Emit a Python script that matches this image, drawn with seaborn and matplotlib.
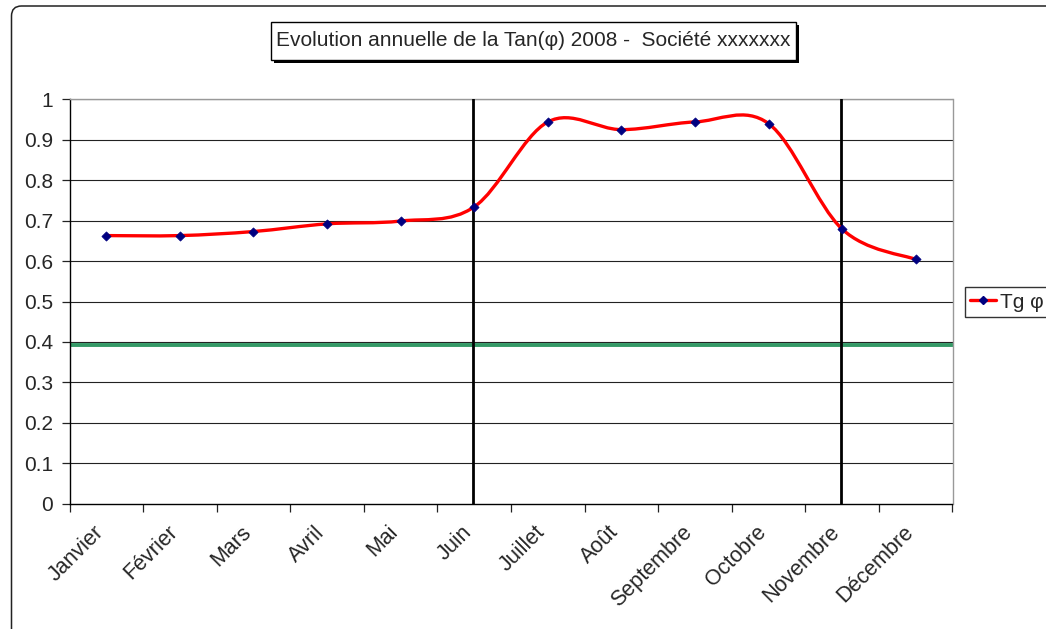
import numpy as np
import matplotlib
matplotlib.use('Agg')
import matplotlib.pyplot as plt
import seaborn as sns
from matplotlib.path import Path
from matplotlib.patches import PathPatch, Rectangle, FancyBboxPatch
from matplotlib.lines import Line2D
from matplotlib.transforms import IdentityTransform, ScaledTranslation

# Data
months = ['Janvier', 'Février', 'Mars', 'Avril', 'Mai', 'Juin', 'Juillet',
          'Août', 'Septembre', 'Octobre', 'Novembre', 'Décembre']
tan_phi = [0.663, 0.663, 0.673, 0.692, 0.699, 0.734, 0.944,
           0.925, 0.944, 0.940, 0.679, 0.604]
threshold = 0.393          # green reference line
marked_months = ['Juin', 'Novembre']   # black vertical lines

TITLE = 'Evolution annuelle de la Tan(φ) 2008 -  Société xxxxxxx'
RED = '#FF0000'
NAVY = '#000080'
GREEN = '#339966'

sns.set_style('white')
plt.rcParams['font.family'] = ['Liberation Sans', 'DejaVu Sans']


def smooth_path(xs, ys):
    """Excel-like smoothed line: Catmull-Rom segments as cubic Beziers."""
    n = len(xs)
    verts = [(xs[0], ys[0])]
    codes = [Path.MOVETO]
    for i in range(n - 1):
        a = i - 1 if i > 0 else i
        d = i + 2 if i + 2 < n else i + 1
        c1 = (xs[i] + (xs[i + 1] - xs[a]) / 6, ys[i] + (ys[i + 1] - ys[a]) / 6)
        c2 = (xs[i + 1] - (xs[d] - xs[i]) / 6, ys[i + 1] - (ys[d] - ys[i]) / 6)
        verts += [c1, c2, (xs[i + 1], ys[i + 1])]
        codes += [Path.CURVE4] * 3
    return Path(verts, codes)


fig = plt.figure(figsize=(10.46, 6.29), dpi=100)
ax = fig.add_axes([69.5 / 1046, 1 - 503.7 / 629, (952.5 - 69.5) / 1046, (503.7 - 99.3) / 629])

pos = np.arange(len(months))

# grid
for v in np.arange(0.1, 1.01, 0.1):
    ax.axhline(v, color='#222222', lw=0.8, zorder=1)

ax.axhline(threshold, color=GREEN, lw=2.8, zorder=2)
for m in marked_months:
    ax.axvline(months.index(m) - 0.02, color='black', lw=2.0, zorder=3)

ax.add_patch(PathPatch(smooth_path(pos, tan_phi), fill=False, edgecolor=RED,
                       lw=2.4, capstyle='round', joinstyle='round', zorder=4))
sns.scatterplot(x=pos, y=tan_phi, marker='D', color=NAVY, s=22,
                edgecolor=NAVY, linewidth=0.5, ax=ax, zorder=5, legend=False)

ax.set_xlim(-0.5, len(months) - 0.5)
ax.set_ylim(0, 1)
ax.set_yticks(np.round(np.arange(0, 1.01, 0.1), 1))
ax.set_yticklabels(['0'] + ['%.1f' % v for v in np.arange(0.1, 0.95, 0.1)] + ['1'])
ax.set_xticks(np.arange(-0.5, len(months), 1))
ax.set_xticklabels([''] * (len(months) + 1))
ax.set_xticks(pos, minor=True)
ax.set_xticklabels(months, minor=True, rotation=45, ha='right', va='top',
                   rotation_mode='anchor')
ax.tick_params(axis='both', which='major', direction='out', length=6, width=0.9,
               color='#222222', labelsize=15, pad=6, left=True, bottom=True)
ax.tick_params(axis='x', which='minor', length=0, labelsize=15.5, pad=13)
shift = ScaledTranslation(-13 / 100, 0, fig.dpi_scale_trans)
for lbl in ax.get_xticklabels(minor=True):
    lbl.set_transform(lbl.get_transform() + shift)

for s in ['left', 'bottom']:
    ax.spines[s].set_color('black')
    ax.spines[s].set_linewidth(1.0)
for s in ['top', 'right']:
    ax.spines[s].set_color('#999999')
    ax.spines[s].set_linewidth(1.0)
ax.set_xlabel('')
ax.set_ylabel('')

# title box with shadow
tx0, ty0, tx1, ty1 = 271, 22, 796, 60
px = IdentityTransform()
fig.patches.append(Rectangle((tx0 + 3, 629 - ty1 - 3), tx1 - tx0, ty1 - ty0,
                             transform=px, facecolor='black', edgecolor='black', lw=0))
fig.patches.append(Rectangle((tx0, 629 - ty1), tx1 - tx0, ty1 - ty0,
                             transform=px, facecolor='white', edgecolor='black', lw=1.0))
fig.text((tx0 + tx1) / 2 / 1046, 1 - (ty0 + ty1) / 2 / 629, TITLE,
         ha='center', va='center', fontsize=15)

# outer rounded border (bottom and right run off the image)
fig.patches.append(FancyBboxPatch((11.5, -20), 1080, 623 + 20, transform=px,
                                  boxstyle='round,pad=0,rounding_size=10',
                                  facecolor='none', edgecolor='#222222', lw=1.1))

# legend (runs off the right edge, as in the reference)
handle = Line2D([], [], color=RED, lw=2.4, marker='D', markersize=4.5,
                markerfacecolor=NAVY, markeredgecolor=NAVY)
leg = fig.legend([handle], ['Tg φ'], loc='center left',
                 bbox_to_anchor=(965 / 1046, 1 - 302 / 629), fontsize=15,
                 frameon=True, fancybox=False, handlelength=1.25,
                 handletextpad=0.2, borderpad=0.25, borderaxespad=0)
leg.get_frame().set_edgecolor('black')
leg.get_frame().set_linewidth(1.0)

fig.savefig('out.png', dpi=100)
